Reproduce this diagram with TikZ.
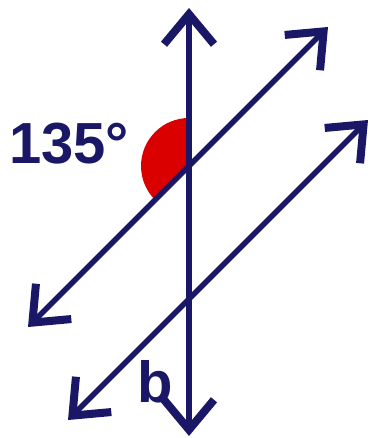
\documentclass[tikz,border=0pt]{standalone}
\usepackage{fontspec}
\setmainfont{Liberation Sans}
\usetikzlibrary{arrows.meta}
\definecolor{lineblue}{RGB}{26,24,102}
\definecolor{anglered}{RGB}{218,0,0}

\begin{document}
\begin{tikzpicture}
[
	barb/.tip={Straight Barb[length=0.6cm,width=1.0cm,line width=0.16cm]},
	ray/.style={draw=lineblue,line width=0.11cm,barb-barb},
	lbl/.style={text=lineblue,font=\bfseries\fontsize{33}{33}\selectfont,inner sep=0pt},
	x=0.02cm, y=-0.02cm
]
	\useasboundingbox (0,0) rectangle (371,438);

	% ends of the lines
	\coordinate (vtop) at (189,8);
	\coordinate (vbot) at (189,436);
	\coordinate (ul) at (28,327);
	\coordinate (ur) at (328,27);
	\coordinate (ll) at (68,420);
	\coordinate (lr) at (368,120);
	\coordinate (p) at (189,166);

	% angle
	\fill[anglered] (p) -- ++(0,-48) arc[start angle=90, end angle=225, radius=0.96cm] -- cycle;

	% lines
	\draw[ray] (vbot) -- (vtop);
	\draw[ray] (ul) -- (ur);
	\draw[ray] (ll) -- (lr);

	% labels
	\node[lbl] (ang) at (69,144) {135°};
	\node[lbl] (b) at (155,382) {b};

\end{tikzpicture}
\end{document}
